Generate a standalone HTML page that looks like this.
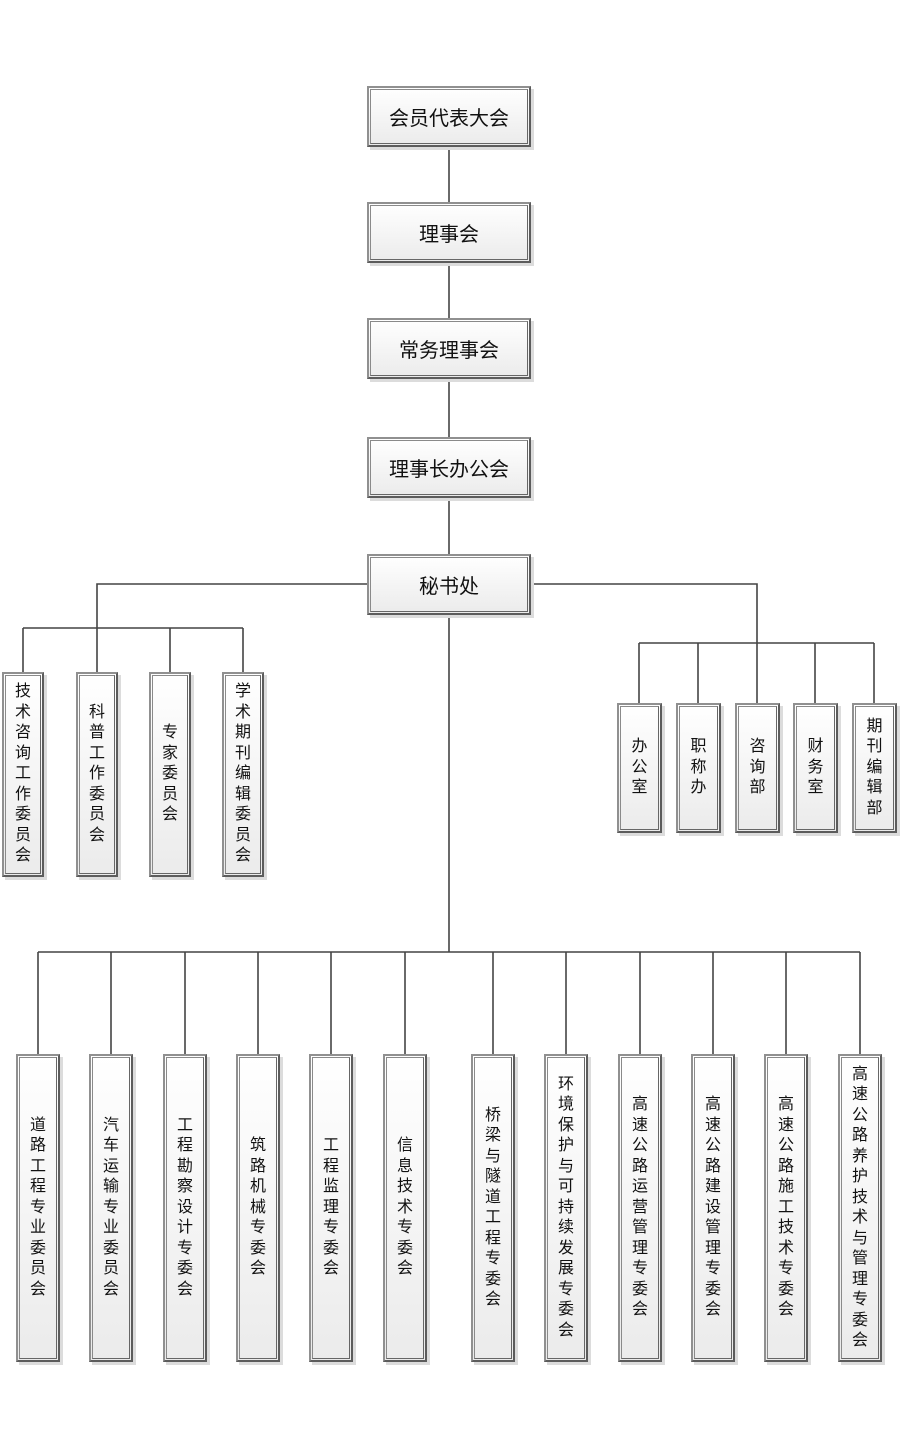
<!DOCTYPE html>
<html><head><meta charset="utf-8">
<style>
html,body{margin:0;padding:0;background:#fff;}
body{width:900px;height:1440px;position:relative;overflow:hidden;font-family:"Liberation Sans","Noto Sans CJK SC",sans-serif;color:#111;}
svg{position:absolute;left:0;top:0;}
.b{position:absolute;box-sizing:border-box;border:2px solid #909090;border-right-color:#5c5c5c;border-bottom-color:#5c5c5c;background:linear-gradient(#ffffff,#ebebeb);box-shadow:3px 3px 0 #dcdcdc;display:flex;align-items:center;justify-content:center;}
.b::before{content:"";position:absolute;left:1px;top:1px;right:1px;bottom:1px;border:1px solid #8a8a8a;border-right-color:#666;border-bottom-color:#666;}
.t{font-size:20px;width:164px;height:61px;left:367px;}
.v span{display:block;width:16px;font-size:16px;line-height:20.5px;word-break:break-all;text-align:center;}
.l{top:672px;width:42px;height:205px;}
.r{top:703px;width:45px;height:130px;}
.m{top:1054px;width:44px;height:308px;}
</style></head><body>
<svg width="900" height="1440" viewBox="0 0 900 1440">
<g stroke="#444" stroke-width="1.6" fill="none">
<line x1="449" y1="147" x2="449" y2="202"/>
<line x1="449" y1="263" x2="449" y2="318"/>
<line x1="449" y1="379" x2="449" y2="437"/>
<line x1="449" y1="498" x2="449" y2="554"/>
<line x1="449" y1="615" x2="449" y2="952"/>
<polyline points="367,584 97,584 97,628"/>
<line x1="23" y1="628" x2="243" y2="628"/>
<line x1="23" y1="628" x2="23" y2="672"/>
<line x1="97" y1="628" x2="97" y2="672"/>
<line x1="170" y1="628" x2="170" y2="672"/>
<line x1="243" y1="628" x2="243" y2="672"/>
<polyline points="531,584 757,584 757,643"/>
<line x1="639" y1="643" x2="874" y2="643"/>
<line x1="639" y1="643" x2="639" y2="703"/>
<line x1="698" y1="643" x2="698" y2="703"/>
<line x1="757" y1="643" x2="757" y2="703"/>
<line x1="815" y1="643" x2="815" y2="703"/>
<line x1="874" y1="643" x2="874" y2="703"/>
<line x1="38" y1="952" x2="860" y2="952"/>
<line x1="38" y1="952" x2="38" y2="1054"/>
<line x1="111" y1="952" x2="111" y2="1054"/>
<line x1="185" y1="952" x2="185" y2="1054"/>
<line x1="258" y1="952" x2="258" y2="1054"/>
<line x1="331" y1="952" x2="331" y2="1054"/>
<line x1="405" y1="952" x2="405" y2="1054"/>
<line x1="493" y1="952" x2="493" y2="1054"/>
<line x1="566" y1="952" x2="566" y2="1054"/>
<line x1="640" y1="952" x2="640" y2="1054"/>
<line x1="713" y1="952" x2="713" y2="1054"/>
<line x1="786" y1="952" x2="786" y2="1054"/>
<line x1="860" y1="952" x2="860" y2="1054"/>
</g>
</svg>

<div class="b t" style="top:86px">会员代表大会</div>
<div class="b t" style="top:202px">理事会</div>
<div class="b t" style="top:318px">常务理事会</div>
<div class="b t" style="top:437px">理事长办公会</div>
<div class="b t" style="top:554px">秘书处</div>

<div class="b v l" style="left:2px"><span>技术咨询工作委员会</span></div>
<div class="b v l" style="left:76px"><span>科普工作委员会</span></div>
<div class="b v l" style="left:149px"><span>专家委员会</span></div>
<div class="b v l" style="left:222px"><span>学术期刊编辑委员会</span></div>

<div class="b v r" style="left:617px"><span>办公室</span></div>
<div class="b v r" style="left:676px"><span>职称办</span></div>
<div class="b v r" style="left:735px"><span>咨询部</span></div>
<div class="b v r" style="left:793px"><span>财务室</span></div>
<div class="b v r" style="left:852px"><span>期刊编辑部</span></div>

<div class="b v m" style="left:16px"><span>道路工程专业委员会</span></div>
<div class="b v m" style="left:89px"><span>汽车运输专业委员会</span></div>
<div class="b v m" style="left:163px"><span>工程勘察设计专委会</span></div>
<div class="b v m" style="left:236px"><span>筑路机械专委会</span></div>
<div class="b v m" style="left:309px"><span>工程监理专委会</span></div>
<div class="b v m" style="left:383px"><span>信息技术专委会</span></div>
<div class="b v m" style="left:471px"><span>桥梁与隧道工程专委会</span></div>
<div class="b v m" style="left:544px"><span>环境保护与可持续发展专委会</span></div>
<div class="b v m" style="left:618px"><span>高速公路运营管理专委会</span></div>
<div class="b v m" style="left:691px"><span>高速公路建设管理专委会</span></div>
<div class="b v m" style="left:764px"><span>高速公路施工技术专委会</span></div>
<div class="b v m" style="left:838px"><span>高速公路养护技术与管理专委会</span></div>
</body></html>
